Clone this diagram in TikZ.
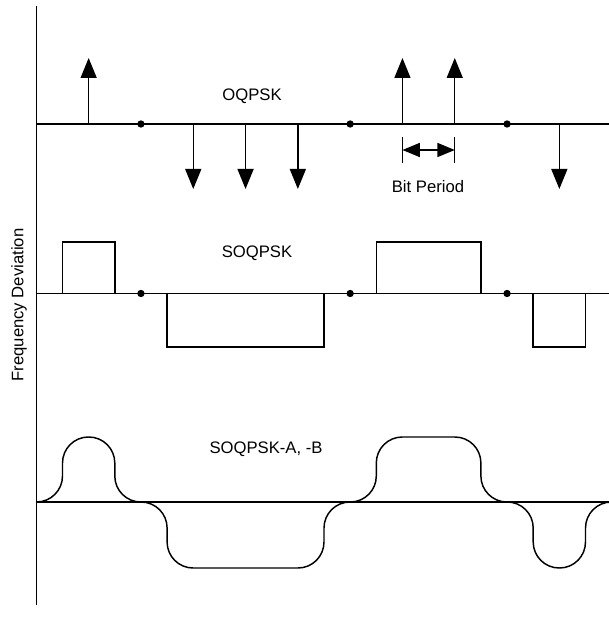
\documentclass[tikz,border=0pt]{standalone}
\usepackage{fontspec}
\setmainfont{Liberation Sans}
\usetikzlibrary{arrows.meta}
\begin{document}
\begin{tikzpicture}[x=0.75pt,y=-0.75pt,
  ln/.style={line width=1.1pt},
  imp/.style={ln,-{Triangle[length=15pt,width=12pt]}},
  bp/.style={ln,{Triangle[length=13pt,width=10.5pt]}-{Triangle[length=13pt,width=10.5pt]}},
  lbl/.style={font=\fontsize{12.5}{15}\selectfont,anchor=base,inner sep=0pt},
  dotm/.style={circle,fill,inner sep=0pt,minimum size=5.5pt}]
\useasboundingbox (0,0) rectangle (609,620);
% axis
\coordinate (axT) at (36.5,6);
\coordinate (axB) at (36.5,605);
\draw[ln] (axT) -- (axB);
\node[lbl,rotate=90] (ylab) at (23.3,305) {Frequency Deviation};
% baselines
\coordinate (l1a) at (36.5,124); \coordinate (l1b) at (609,124);
\coordinate (l2a) at (36.5,293.5); \coordinate (l2b) at (609,293.5);
\coordinate (l3a) at (36.5,502); \coordinate (l3b) at (609,502);
\draw[ln] (l1a) -- (l1b);
\draw[ln] (l2a) -- (l2b);
\draw[ln] (l3a) -- (l3b);
% OQPSK impulses
\foreach \i/\x in {0/88.65,6/402.45,7/454.75}{
  \coordinate (u\i) at (\x,124); \coordinate (ut\i) at (\x,58);
  \draw[imp] (u\i) -- (ut\i);}
\foreach \i/\x in {2/193.25,3/245.55,4/297.85,9/559.35}{
  \coordinate (d\i) at (\x,124); \coordinate (dt\i) at (\x,189);
  \draw[imp] (d\i) -- (dt\i);}
% dots
\foreach \i/\x in {1/140.95,5/350.15,8/507.05}{
  \node[dotm] (p\i) at (\x,124) {};
  \node[dotm] (q\i) at (\x,293.5) {};}
% bit period
\coordinate (bp1a) at (402.45,137); \coordinate (bp1b) at (402.45,163);
\coordinate (bp2a) at (454.75,137); \coordinate (bp2b) at (454.75,163);
\coordinate (bpl) at (402.45,150); \coordinate (bpr) at (454.75,150);
\draw[ln] (bp1a) -- (bp1b);
\draw[ln] (bp2a) -- (bp2b);
\draw[bp] (bpl) -- (bpr);
% labels
\node[lbl] (t1) at (252,101) {OQPSK};
\node[lbl] (t2) at (428,193) {Bit Period};
\node[lbl] (t3) at (257,257) {SOQPSK};
\node[lbl] (t4) at (266,453) {SOQPSK-A, -B};
% SOQPSK boxes
\draw[ln] (62.5,293.5) rectangle (114.8,242);
\draw[ln] (167.1,293.5) rectangle (324,347);
\draw[ln] (376.3,293.5) rectangle (480.9,242);
\draw[ln] (533.2,293.5) rectangle (585.5,347);
% SOQPSK-A,-B shaped waveform
\draw[ln,rounded corners=19.5pt] (36.35,502) -- (62.5,502) -- (62.5,437) -- (114.8,437)
  -- (114.8,502) -- (167.1,502) -- (167.1,568) -- (324,568) -- (324,502)
  -- (376.3,502) -- (376.3,437) -- (480.9,437) -- (480.9,502) -- (533.2,502)
  -- (533.2,568) -- (585.5,568) -- (585.5,502) -- (611.65,502);
\end{tikzpicture}
\end{document}
